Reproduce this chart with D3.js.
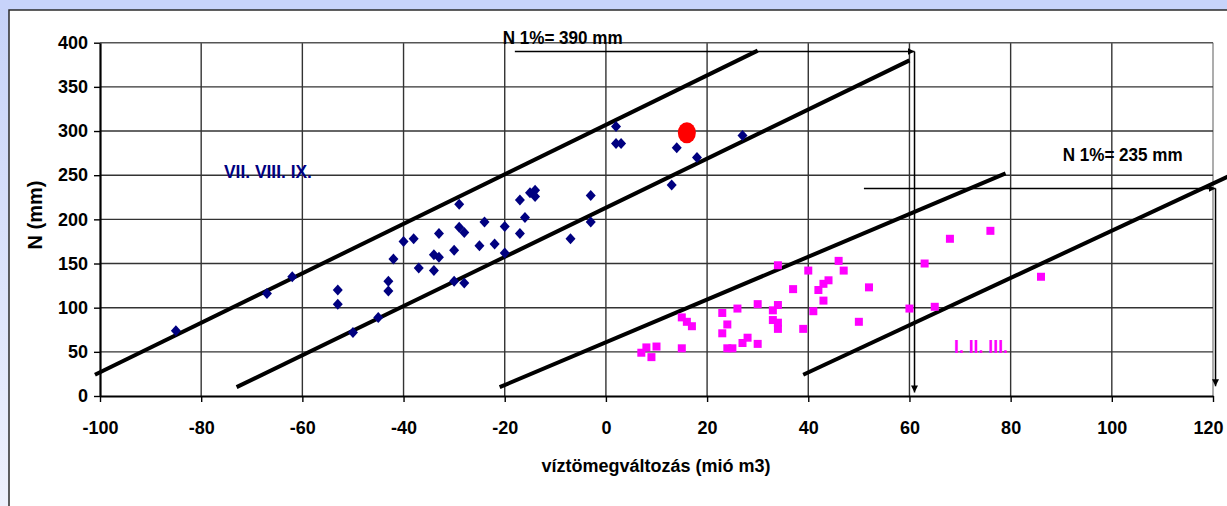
<!DOCTYPE html>
<html>
<head>
<meta charset="utf-8">
<script src="https://cdn.jsdelivr.net/npm/d3@7"></script>
<style>
  html, body { margin: 0; padding: 0; background: #ffffff; }
  svg { display: block; }
  text { font-family: "Liberation Sans", Arial, sans-serif; font-weight: bold; }
</style>
</head>
<body>
<svg id="chart" width="1227" height="506"></svg>
<script>
// Autumn months (VII–IX): water-mass change vs. precipitation
const summerX = [-85, -67, -62, -53, -53, -50, -45, -43, -43, -42, -40, -38, -37, -34, -34, -33, -33, -30, -30, -29, -29, -28, -28, -25, -24, -22, -20, -20, -17, -17, -16, -15, -14, -14, -7, -3, -3, 2, 2, 3, 13, 14, 18, 27];
const summerY = [74, 116, 135, 120, 104, 72, 89, 130, 119, 155, 175, 178, 145, 160, 142, 184, 157, 165, 130, 217, 191, 185, 128, 170, 197, 172, 192, 162, 222, 184, 202, 230, 233, 226, 178, 197, 227, 305, 286, 286, 239, 281, 270, 295];

// Winter months (I–III)
const winterX = [7, 8, 9, 10, 15, 15, 16, 17, 23, 23, 24, 24, 25, 26, 27, 28, 30, 30, 33, 34, 33, 34, 34, 34, 37, 39, 40, 41, 42, 43, 44, 43, 46, 47, 50, 52, 60, 63, 65, 68, 76, 86];
const winterY = [49, 55, 44, 56, 54, 89, 84, 79, 94, 71, 81, 54, 54, 99, 60, 66, 104, 59, 97, 103, 86, 83, 76, 148, 121, 76, 142, 96, 120, 127, 131, 108, 153, 142, 84, 123, 99, 150, 101, 178, 187, 135];

// Highlighted event
const eventX = [16];
const eventY = [298];

// Envelope lines, each as [start, end] in data units
const summerUpper = [[-101, 24], [30, 391]];
const summerLower = [[-73, 10], [60, 380]];
const winterUpper = [[-21, 10], [79, 252]];
const winterLower = [[39, 24], [125, 254]];
const envelopes = [summerUpper, summerLower, winterUpper, winterLower];

// 1% precipitation levels and where they meet the envelopes
const levelN = [390, 235];
const levelStartX = [-18, 51];
const levelEndX = [61, 120.5];
const levelDropToN = [4, 11];
const levelLabels = ["N 1%= 390 mm", "N 1%= 235 mm"];

// Axes
const xTicks = [-100, -80, -60, -40, -20, 0, 20, 40, 60, 80, 100, 120];
const yTicks = [0, 50, 100, 150, 200, 250, 300, 350, 400];
const xTitle = "víztömegváltozás (mió m3)";
const yTitle = "N (mm)";
const groupLabels = ["VII. VIII. IX.", "I. II. III."];
const groupLabelAt = [[-75.5, 247], [68.8, 48.7]];

const svg = d3.select("#chart");
const W = 1227, H = 506;

// Frame: tinted band and white panel
const defs = svg.append("defs");
const grad = defs.append("linearGradient").attr("id", "sideGrad")
  .attr("x1", 0).attr("y1", 0).attr("x2", 0).attr("y2", 1);
grad.append("stop").attr("offset", "0%").attr("stop-color", "#c6d2f8");
grad.append("stop").attr("offset", "100%").attr("stop-color", "#eef1fd");
svg.append("rect").attr("x", 0).attr("y", 0).attr("width", W).attr("height", H).attr("fill", "url(#sideGrad)");
svg.append("rect").attr("x", 0).attr("y", 0).attr("width", W).attr("height", 9).attr("fill", "#c7d3fa");
svg.append("rect").attr("x", 9).attr("y", 10).attr("width", W).attr("height", H)
  .attr("fill", "#ffffff").attr("stroke", "#2b2b2b").attr("stroke-width", 1.5);

defs.append("marker").attr("id", "arrow")
  .attr("viewBox", "0 0 10 10").attr("refX", 10).attr("refY", 5)
  .attr("markerWidth", 7).attr("markerHeight", 7).attr("markerUnits", "userSpaceOnUse")
  .attr("orient", "auto")
  .append("path").attr("d", "M0,0 L10,5 L0,10 Z").attr("fill", "#000");

const x = d3.scaleLinear().domain([-100, 120]).range([100, 1213]);
const y = d3.scaleLinear().domain([0, 400]).range([396, 42.7]);

// Gridlines
const grid = svg.append("g");
grid.selectAll("line.v").data(xTicks.slice(1)).join("line")
  .attr("x1", d => x(d)).attr("x2", d => x(d)).attr("y1", y(400)).attr("y2", y(0))
  .attr("stroke", d => d === 120 ? "#8a8a8a" : "#333").attr("stroke-width", 1.4);
grid.selectAll("line.h").data(yTicks.slice(1)).join("line")
  .attr("x1", x(-100)).attr("x2", x(120)).attr("y1", d => y(d)).attr("y2", d => y(d))
  .attr("stroke", d => d === 400 ? "#555" : "#333").attr("stroke-width", 1.4);

// Axes (plain hyphen for negative numbers)
const plain = d => String(d);
const xAxis = svg.append("g").attr("transform", `translate(0,${y(0)})`)
  .call(d3.axisBottom(x).tickValues(xTicks).tickFormat(plain).tickSize(6).tickSizeOuter(0).tickPadding(19));
const yAxis = svg.append("g").attr("transform", `translate(${x(-100)},0)`)
  .call(d3.axisLeft(y).tickValues(yTicks).tickFormat(plain).tickSize(6).tickSizeOuter(0).tickPadding(6));
[xAxis, yAxis].forEach(a => {
  a.select(".domain").attr("stroke", "#000").attr("stroke-width", 2.2);
  a.selectAll(".tick line").attr("stroke", "#000").attr("stroke-width", 1.4);
  a.selectAll(".tick text").attr("fill", "#000").style("font-size", "18px")
    .style("font-family", '"Liberation Sans", Arial, sans-serif').style("font-weight", "bold");
});
// keep the last x label inside the panel's right edge
xAxis.selectAll(".tick text").filter(d => d === 120).attr("dx", -5);

svg.append("text").attr("x", 656).attr("y", 472).attr("text-anchor", "middle")
  .style("font-size", "18px").attr("fill", "#000").text(xTitle);
svg.append("text").attr("transform", "translate(42,215) rotate(-90)").attr("text-anchor", "middle")
  .style("font-size", "20px").attr("fill", "#000").text(yTitle);

// Envelope lines
const lineGen = d3.line().x(d => x(d[0])).y(d => y(d[1]));
svg.append("g").selectAll("path").data(envelopes).join("path")
  .attr("d", lineGen).attr("fill", "none").attr("stroke", "#000").attr("stroke-width", 4);

// 1% level arrows
const lv = svg.append("g");
levelN.forEach((n, i) => {
  lv.append("line").attr("x1", x(levelStartX[i])).attr("x2", x(levelEndX[i]))
    .attr("y1", y(n)).attr("y2", y(n)).attr("stroke", "#000").attr("stroke-width", 1.5)
    .attr("marker-end", "url(#arrow)");
  lv.append("line").attr("x1", x(levelEndX[i])).attr("x2", x(levelEndX[i]))
    .attr("y1", y(n)).attr("y2", y(levelDropToN[i])).attr("stroke", "#000").attr("stroke-width", 1.5)
    .attr("marker-end", "url(#arrow)");
});
svg.append("text").attr("x", 502.7).attr("y", 43.5).attr("textLength", 120).attr("lengthAdjust", "spacingAndGlyphs")
  .style("font-size", "18px").attr("fill", "#000").text(levelLabels[0]);
svg.append("text").attr("x", 1062.7).attr("y", 160.7).attr("textLength", 120).attr("lengthAdjust", "spacingAndGlyphs")
  .style("font-size", "18px").attr("fill", "#000").text(levelLabels[1]);

// Season labels
svg.append("text").attr("x", x(groupLabelAt[0][0])).attr("y", y(groupLabelAt[0][1]))
  .attr("textLength", 88).attr("lengthAdjust", "spacingAndGlyphs")
  .style("font-size", "19px").attr("fill", "#000080").text(groupLabels[0]);
svg.append("text").attr("x", x(groupLabelAt[1][0])).attr("y", y(groupLabelAt[1][1]))
  .attr("textLength", 54).attr("lengthAdjust", "spacingAndGlyphs")
  .style("font-size", "19px").attr("fill", "#ff00ff").text(groupLabels[1]);

// Markers
const diamond = "M0,-5.5 L5,0 L0,5.5 L-5,0 Z";
svg.append("g").selectAll("path").data(d3.range(summerX.length)).join("path")
  .attr("d", diamond)
  .attr("transform", i => `translate(${x(summerX[i])},${y(summerY[i])})`)
  .attr("fill", "#000080");
svg.append("g").selectAll("rect").data(d3.range(winterX.length)).join("rect")
  .attr("x", i => x(winterX[i]) - 4).attr("y", i => y(winterY[i]) - 4)
  .attr("width", 8).attr("height", 8).attr("fill", "#ff00ff");
svg.append("g").selectAll("ellipse").data(d3.range(eventX.length)).join("ellipse")
  .attr("cx", i => x(eventX[i])).attr("cy", i => y(eventY[i]))
  .attr("rx", 9).attr("ry", 10.5).attr("fill", "#ff0000");
</script>
</body>
</html>
